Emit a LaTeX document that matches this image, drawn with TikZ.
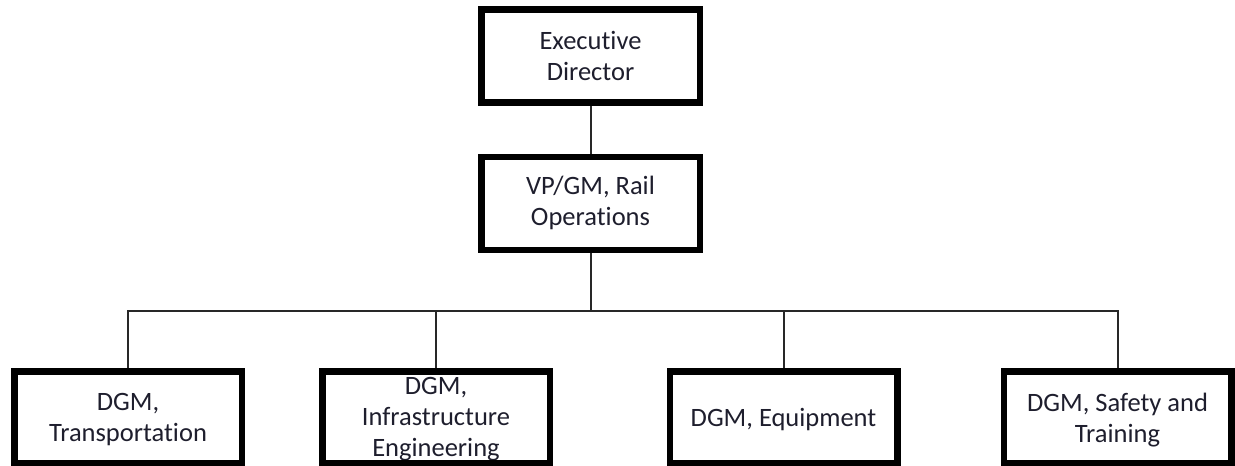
\documentclass[tikz,border=0pt]{standalone}
\usepackage{fontspec}
\setmainfont{Carlito}[Ligatures=NoCommon]
\definecolor{textcol}{RGB}{30,30,45}
\definecolor{linkcol}{RGB}{40,40,40}
\begin{document}
\begin{tikzpicture}[x=1pt,y=-1pt,
  boxframe/.style={draw=black, line width=6.5pt, inner sep=0pt},
  upperframe/.style={boxframe, minimum width=218.5pt, minimum height=93pt},
  lowerframe/.style={boxframe, minimum width=227.5pt, minimum height=92pt},
  boxtext/.style={font=\fontsize{26.5}{31}\selectfont, align=center, text=textcol, inner sep=0pt},
  link/.style={draw=linkcol, line width=2pt}]
\useasboundingbox (0,0) rectangle (1235,466);
\clip (0,0) rectangle (1235,466);

% box captions
\node[boxtext] (t0) at (590.5,56) {Executive\\Director};
\node[boxtext] (t1) at (590.5,203) {VP/GM, Rail\\Operations};
\node[boxtext] (t2) at (128,420) {DGM,\\Transportation};
\node[boxtext] (t3) at (436,419) {DGM,\\Infrastructure\\Engineering};
\node[boxtext] (t4) at (783.5,420) {DGM, Equipment};
\node[boxtext] (t5) at (1117.5,420) {DGM, Safety and\\Training};

% box frames, drawn over the captions
\node[upperframe] (exec) at (590.5,56) {};
\node[upperframe] (vpgm) at (590.5,203.5) {};
\node[lowerframe] (trans) at (128,417.25) {};
\node[lowerframe] (infra) at (436,417.25) {};
\node[lowerframe] (equip) at (783.5,417.25) {};
\node[lowerframe] (safety) at (1117.5,417.25) {};

% reporting lines
\coordinate (bus) at (590.5,311);
\draw[link] (exec.south) -- (vpgm.north);
\draw[link] (vpgm.south) -- (bus);
\draw[link] (bus) -| (trans.north);
\draw[link] (bus) -| (infra.north);
\draw[link] (bus) -| (equip.north);
\draw[link] (bus) -| (safety.north);
\end{tikzpicture}
\end{document}
